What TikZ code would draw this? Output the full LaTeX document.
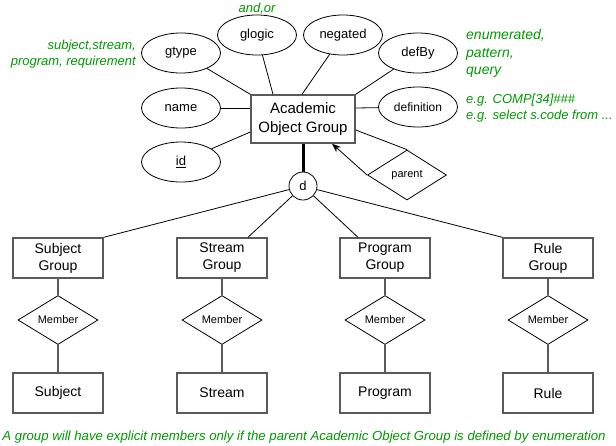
\documentclass[tikz,border=0pt]{standalone}
\usepackage{fontspec}
\setmainfont{Liberation Sans}
\usetikzlibrary{shapes.geometric,arrows.meta,calc}
\newcommand\myfs[2]{\fontsize{#1}{#2}\selectfont}
\definecolor{lblgreen}{RGB}{0,153,0}
\definecolor{boxgray}{RGB}{90,90,90}
\begin{document}
\begin{tikzpicture}[x=1pt,y=-1pt,
  ent/.style={draw=boxgray,line width=1.4pt,rectangle,minimum width=90pt,minimum height=40pt,inner sep=0pt,align=center,font=\myfs{14}{17}},
  attr/.style={draw=black,line width=0.8pt,ellipse,minimum width=79pt,minimum height=40pt,inner sep=0pt,font=\myfs{13}{16}},
  rel/.style={draw=black,line width=0.8pt,diamond,minimum width=80pt,minimum height=49pt,inner sep=0pt,font=\myfs{11}{13}},
  conn/.style={draw=black,line width=0.8pt},
  gconn/.style={draw=boxgray,line width=1.4pt},
  lbl/.style={text=lblgreen,font=\itshape\myfs{13}{16},inner sep=0pt}
]
\useasboundingbox (0,0) rectangle (616,445);

% main entity
\node[ent,minimum width=104pt,minimum height=48pt,font=\myfs{15}{19}] (aog) at (303,119) {Academic\\Object Group};

% attributes
\node[attr] (gtype) at (181,53) {gtype};
\node[attr] (glogic) at (257,35) {glogic};
\node[attr] (name) at (181,108) {name};
\node[attr] (id) at (181,162) {\underline{id}};
\node[attr] (negated) at (343,35) {negated};
\node[attr] (defby) at (418,53) {defBy};
\node[attr,font=\myfs{12}{15}] (definition) at (418,107) {definition};

% disjoint circle and parent relationship
\node[draw=black,line width=0.8pt,circle,minimum size=28pt,inner sep=0pt,font=\myfs{13}{16}] (d) at (303,186) {d};
\node[rel,minimum width=79pt,minimum height=50pt] (parent) at (407,175) {parent};

% subgroups
\node[ent] (sgrp) at (58,258) {Subject\\Group};
\node[ent] (stgrp) at (222,258) {Stream\\Group};
\node[ent] (pgrp) at (385,258) {Program\\Group};
\node[ent] (rgrp) at (548,258) {Rule\\Group};

\node[rel] (sm) at (58,320) {Member};
\node[rel] (stm) at (222,320) {Member};
\node[rel] (pm) at (385,320) {Member};
\node[rel] (rm) at (548,320) {Member};

\node[ent] (subj) at (58,393) {Subject};
\node[ent] (strm) at (222,393) {Stream};
\node[ent] (prog) at (385,393) {Program};
\node[ent] (rule) at (548,393) {Rule};

% attribute connectors
\draw[conn] (gtype) -- (aog.north west);
\draw[conn] (glogic) -- ([xshift=-30pt]aog.north);
\draw[conn] (negated) -- ([xshift=-1pt]aog.north);
\draw[conn] (defby) -- (aog.north east);
\draw[conn] (name) -- ([yshift=11pt]aog.west);
\draw[conn] (id) -- ([yshift=-13pt]aog.west);
\draw[conn] (definition) -- ([yshift=11pt]aog.east);

% parent
\draw[conn] ([yshift=-11pt]aog.east) -- (parent.north);
\draw[conn,-{Stealth[length=9pt,width=7pt]}] (parent.west) -- ([xshift=29pt]aog.south);

% disjoint
\draw[line width=3pt] (aog.south) -- (d.north);
\draw[conn] (d) -- (sgrp.north east);
\draw[conn] (d) -- ([xshift=26pt]stgrp.north);
\draw[conn] (d) -- ([xshift=-27pt]pgrp.north);
\draw[conn] (d) -- (rgrp.north west);

% member links
\draw[gconn] (sgrp) -- (sm) -- (subj);
\draw[gconn] (stgrp) -- (stm) -- (strm);
\draw[gconn] (pgrp) -- (pm) -- (prog);
\draw[gconn] (rgrp) -- (rm) -- (rule);

% green labels
\node[lbl] (l1) at (257,9) {and,or};
\node[lbl,anchor=east,align=right] (l2) at (136,54.5) {subject,stream,\\program, requirement};
\node[lbl,anchor=west,align=left,font=\itshape\myfs{14}{17.5}] (l3) at (466,53.5) {enumerated,\\pattern,\\query};
\node[lbl,anchor=west,align=left] (l4) at (466,108) {e.g. COMP[34]\#\#\#\\e.g. select s.code from ...};
\node[lbl,font=\itshape\myfs{13.2}{15}] (l5) at (304,437) {A group will have explicit members only if the parent Academic Object Group is defined by enumeration};
\end{tikzpicture}
\end{document}
